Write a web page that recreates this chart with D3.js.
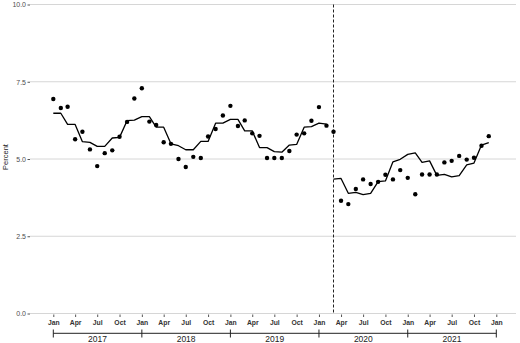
<!DOCTYPE html>
<html>
<head>
<meta charset="utf-8">
<script src="https://cdn.jsdelivr.net/npm/d3@7"></script>
<style>
  body { margin: 0; background: #fff; }
  text { font-family: Arial, "Liberation Sans", sans-serif; }
</style>
</head>
<body>
<div id="chart"></div>
<script>
// monthly observed values, Jan 2017 - Dec 2021
const observed = [
  6.94, 6.65, 6.69, 5.64, 5.88, 5.31, 4.77, 5.19, 5.28, 5.72, 6.20, 6.96,
  7.29, 6.21, 6.10, 5.54, 5.49, 5.00, 4.74, 5.07, 5.03, 5.73, 5.97, 6.41,
  6.72, 6.07, 6.25, 5.83, 5.75, 5.03, 5.03, 5.03, 5.26, 5.79, 5.83, 6.24,
  6.68, 6.08, 5.88, 3.65, 3.54, 4.03, 4.34, 4.19, 4.26, 4.49, 4.34, 4.64,
  4.39, 3.86, 4.50, 4.50, 4.50, 4.89, 4.94, 5.10, 4.98, 5.04, 5.43, 5.74
];
// fitted line before the break, Jan 2017 - Feb 2020
const fittedPre = [
  6.48, 6.48, 6.12, 6.12, 5.56, 5.54, 5.41, 5.41, 5.68, 5.70, 6.24, 6.26,
  6.37, 6.37, 6.03, 6.03, 5.49, 5.43, 5.30, 5.30, 5.57, 5.57, 6.16, 6.16,
  6.28, 6.28, 5.91, 5.91, 5.37, 5.37, 5.24, 5.22, 5.45, 5.47, 6.03, 6.05,
  6.16, 6.13
];
// fitted line after the break, Mar 2020 - Dec 2021
const fittedPost = [
  4.35, 4.37, 3.89, 3.92, 3.85, 3.89, 4.27, 4.29, 4.91, 4.99,
  5.15, 5.20, 4.89, 4.94, 4.47, 4.50, 4.42, 4.46, 4.81, 4.87, 5.45, 5.53
];
const yTicks = [0, 2.5, 5, 7.5, 10];
const years = [2017, 2018, 2019, 2020, 2021];
const startDate = new Date(2017, 0, 1);
const endDate = new Date(2022, 0, 1);
const breakDate = new Date(2020, 2, 1);

const width = 520, height = 343;
const panel = { left: 30, right: 516, top: 4.5, bottom: 313.5 };

const months = d3.timeMonth.range(startDate, endDate);
const preMonths = months.slice(0, fittedPre.length);
const postMonths = months.slice(months.length - fittedPost.length);

const svg = d3.select("#chart").append("svg")
    .attr("width", width)
    .attr("height", height);

const x = d3.scaleTime()
    .domain([startDate, endDate])
    .range([53.3, 496.3]);

const y = d3.scaleLinear()
    .domain([0, 10])
    .range([panel.bottom, panel.top]);

// horizontal grid
svg.append("g").selectAll("line")
    .data(yTicks)
    .enter().append("line")
    .attr("x1", panel.left).attr("x2", panel.right)
    .attr("y1", d => y(d)).attr("y2", d => y(d))
    .attr("stroke", "#d6d6d6")
    .attr("stroke-width", 1);

// y axis
const yAxis = svg.append("g")
    .attr("transform", `translate(${panel.left},0)`)
    .call(d3.axisLeft(y).tickValues(yTicks).tickFormat(d3.format(".1f")).tickSize(2.5).tickPadding(1.5));
yAxis.select(".domain").remove();
yAxis.selectAll(".tick line").attr("stroke", "#555");
yAxis.selectAll(".tick text")
    .style("font-size", "7px")
    .attr("fill", "#4d4d4d");

svg.append("text")
    .attr("transform", "translate(8,157) rotate(-90)")
    .attr("text-anchor", "middle")
    .style("font-size", "7.5px")
    .attr("fill", "#222")
    .text("Percent");

// month axis
const xAxis = svg.append("g")
    .attr("transform", `translate(0,${panel.bottom + 1})`)
    .call(d3.axisBottom(x)
        .ticks(d3.timeMonth.every(3))
        .tickFormat(d3.timeFormat("%b"))
        .tickSize(2.5)
        .tickPadding(3));
xAxis.select(".domain").remove();
xAxis.selectAll(".tick line").attr("stroke", "#555");
xAxis.selectAll(".tick text")
    .style("font-size", "6.8px")
    .style("font-weight", "bold")
    .attr("fill", "#333");

// year brackets
const yearG = svg.append("g");
yearG.append("line")
    .attr("x1", x(startDate)).attr("x2", x(endDate))
    .attr("y1", 333.3).attr("y2", 333.3)
    .attr("stroke", "#222").attr("stroke-width", 1);
yearG.selectAll(".yt")
    .data(years.concat([years[years.length - 1] + 1]))
    .enter().append("line")
    .attr("x1", d => x(new Date(d, 0, 1))).attr("x2", d => x(new Date(d, 0, 1)))
    .attr("y1", 329.5).attr("y2", 337.5)
    .attr("stroke", "#222").attr("stroke-width", 1);
yearG.selectAll("text")
    .data(years)
    .enter().append("text")
    .attr("x", d => (x(new Date(d, 0, 1)) + x(new Date(d + 1, 0, 1))) / 2)
    .attr("y", 342.3)
    .attr("text-anchor", "middle")
    .style("font-size", "8.5px")
    .attr("fill", "#222")
    .text(d => d);

// break line
svg.append("line")
    .attr("x1", x(breakDate)).attr("x2", x(breakDate))
    .attr("y1", panel.top).attr("y2", panel.bottom)
    .attr("stroke", "#222")
    .attr("stroke-width", 1)
    .attr("stroke-dasharray", "3,2");

// fitted lines
const line = d3.line()
    .x(d => x(d[0]))
    .y(d => y(d[1]));

[[preMonths, fittedPre], [postMonths, fittedPost]].forEach(([m, v]) => {
  svg.append("path")
      .datum(m.map((d, i) => [d, v[i]]))
      .attr("fill", "none")
      .attr("stroke", "#000")
      .attr("stroke-width", 1.3)
      .attr("stroke-linejoin", "round")
      .attr("d", line);
});

// observed points
svg.append("g").selectAll("circle")
    .data(months.map((d, i) => [d, observed[i]]))
    .enter().append("circle")
    .attr("cx", d => x(d[0]))
    .attr("cy", d => y(d[1]))
    .attr("r", 2.2)
    .attr("fill", "#000");
</script>
</body>
</html>
